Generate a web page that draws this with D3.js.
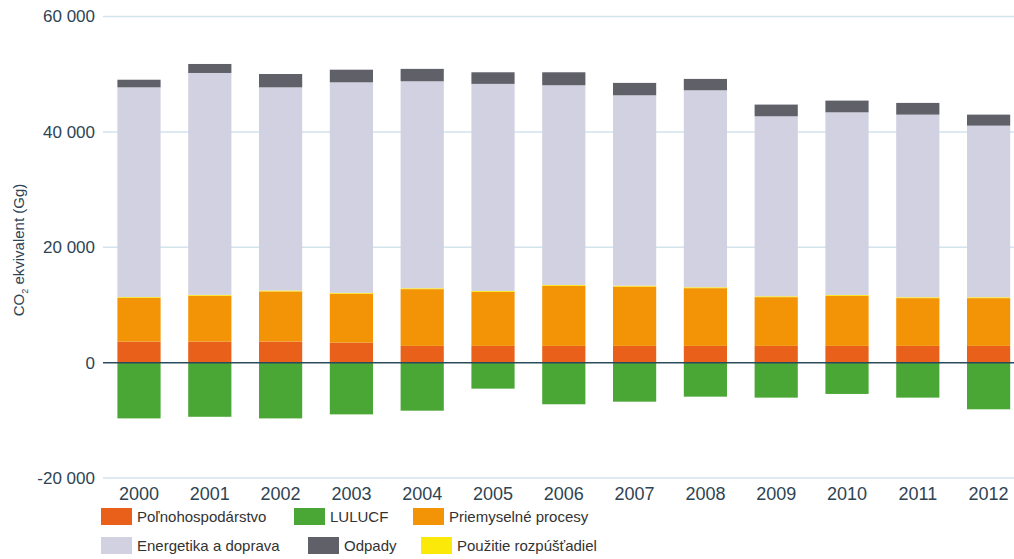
<!DOCTYPE html>
<html lang="sk">
<head>
  <meta charset="UTF-8">
  <title>Emisie skleníkových plynov</title>
  <script src="https://d3js.org/d3.v7.min.js"></script>
  <style>
    body {
      margin: 0;
      background: #fff;
      font-family: Arial, "Liberation Sans", sans-serif;
    }
    .tick-label {
      fill: #2e4454;
      font-size: 17px;
    }
    .legend-label {
      fill: #333;
      font-size: 15px;
    }
  </style>
</head>
<body>
  <svg id="chart" width="1014" height="559"></svg>

  <script>
    const years = ["2000", "2001", "2002", "2003", "2004", "2005", "2006",
                   "2007", "2008", "2009", "2010", "2011", "2012"];

    // Gg CO2 ekvivalent
    const polnohospodarstvo = [3650, 3650, 3650, 3480, 2900, 2900, 2900, 2900, 2900, 2900, 2900, 2900, 2900];
    const priemysel = [7550, 7950, 8700, 8470, 9840, 9370, 10410, 10290, 10010, 8450, 8680, 8280, 8280];
    const rozpustadla = [150, 150, 150, 150, 150, 150, 150, 150, 150, 150, 150, 150, 150];
    const energetika = [36370, 38460, 35220, 36490, 35880, 35900, 34620, 33000, 34150, 31200, 31660, 31660, 29750];
    const odpady = [1320, 1560, 2310, 2190, 2150, 2010, 2250, 2150, 1970, 2030, 2030, 2030, 1910];
    const lulucf = [-9670, -9390, -9670, -8970, -8330, -4510, -7220, -6770, -5900, -6070, -5430, -6070, -8090];

    const yTicks = [-20000, 0, 20000, 40000, 60000];

    const series = [
      {key: "Poľnohospodárstvo", values: polnohospodarstvo, color: "#e8601a"},
      {key: "LULUCF", values: lulucf, color: "#4ba735"},
      {key: "Priemyselné procesy", values: priemysel, color: "#f29406"},
      {key: "Energetika a doprava", values: energetika, color: "#d1d1e1"},
      {key: "Odpady", values: odpady, color: "#5f6068"},
      {key: "Použitie rozpúšťadiel", values: rozpustadla, color: "#fbe90a"}
    ];
    // order in which positive parts are stacked from zero upwards
    const stackOrder = ["Poľnohospodárstvo", "Priemyselné procesy", "Použitie rozpúšťadiel",
                        "Energetika a doprava", "Odpady"];

    const svg = d3.select("#chart");

    const x = d3.scaleBand()
      .domain(years)
      .range([103.6, 1024])
      .paddingInner(0.39)
      .paddingOuter(0.195);

    const y = d3.scaleLinear()
      .domain([-20000, 60000])
      .range([478, 16.5]);

    const fmt = v => d3.format(",")(v).replace(/,/g, " ").replace("\u2212", "-");

    // gridlines
    svg.append("g")
      .selectAll("line")
      .data(yTicks.filter(t => t !== 0))
      .join("line")
      .attr("x1", 103)
      .attr("x2", 1014)
      .attr("y1", d => y(d))
      .attr("y2", d => y(d))
      .attr("stroke", "#d3e3ec")
      .attr("stroke-width", 1.5);

    // y tick labels
    svg.append("g")
      .selectAll("text")
      .data(yTicks)
      .join("text")
      .attr("class", "tick-label")
      .attr("x", 95)
      .attr("y", d => y(d))
      .attr("dy", "0.35em")
      .attr("text-anchor", "end")
      .text(d => fmt(d));

    // stacked bars
    const rows = years.map((yr, i) => {
      const row = {year: yr};
      series.forEach(s => row[s.key] = s.values[i]);
      return row;
    });

    const stacked = d3.stack().keys(stackOrder)(rows);
    const colorOf = Object.fromEntries(series.map(s => [s.key, s.color]));

    const bars = svg.append("g");
    stacked.forEach(layer => {
      bars.append("g")
        .attr("fill", colorOf[layer.key])
        .selectAll("rect")
        .data(layer)
        .join("rect")
        .attr("x", d => x(d.data.year))
        .attr("width", x.bandwidth())
        .attr("y", d => y(d[1]))
        .attr("height", d => y(d[0]) - y(d[1]));
    });

    // negative LULUCF
    bars.append("g")
      .attr("fill", colorOf["LULUCF"])
      .selectAll("rect")
      .data(rows)
      .join("rect")
      .attr("x", d => x(d.year))
      .attr("width", x.bandwidth())
      .attr("y", y(0))
      .attr("height", d => y(d.LULUCF) - y(0));

    // zero line
    svg.append("line")
      .attr("x1", 103)
      .attr("x2", 1014)
      .attr("y1", y(0))
      .attr("y2", y(0))
      .attr("stroke", "#2b4a5c")
      .attr("stroke-width", 1.5);

    // x labels
    svg.append("g")
      .selectAll("text")
      .data(years)
      .join("text")
      .attr("class", "tick-label")
      .attr("x", d => x(d) + x.bandwidth() / 2)
      .attr("y", 494)
      .attr("dy", "0.35em")
      .attr("text-anchor", "middle")
      .style("font-size", "18px")
      .text(d => d);

    // y axis title
    const yt = svg.append("text")
      .attr("class", "tick-label")
      .attr("transform", "translate(24,250) rotate(-90)")
      .attr("text-anchor", "middle")
      .style("font-size", "15px");
    yt.append("tspan").text("CO");
    yt.append("tspan").attr("dy", 4).style("font-size", "9px").text("2");
    yt.append("tspan").attr("dy", -4).text(" ekvivalent (Gg)");

    // legend
    const legendItems = [
      {key: "Poľnohospodárstvo", x: 101, y: 508},
      {key: "LULUCF", x: 294, y: 508},
      {key: "Priemyselné procesy", x: 413, y: 508},
      {key: "Energetika a doprava", x: 101, y: 537},
      {key: "Odpady", x: 308, y: 537},
      {key: "Použitie rozpúšťadiel", x: 421, y: 537}
    ];
    const lg = svg.append("g")
      .selectAll("g")
      .data(legendItems)
      .join("g")
      .attr("transform", d => `translate(${d.x},${d.y})`);
    lg.append("rect")
      .attr("width", 31)
      .attr("height", 17)
      .attr("fill", d => colorOf[d.key]);
    lg.append("text")
      .attr("class", "legend-label")
      .attr("x", 36)
      .attr("y", 8.5)
      .attr("dy", "0.35em")
      .text(d => d.key);
  </script>
</body>
</html>
